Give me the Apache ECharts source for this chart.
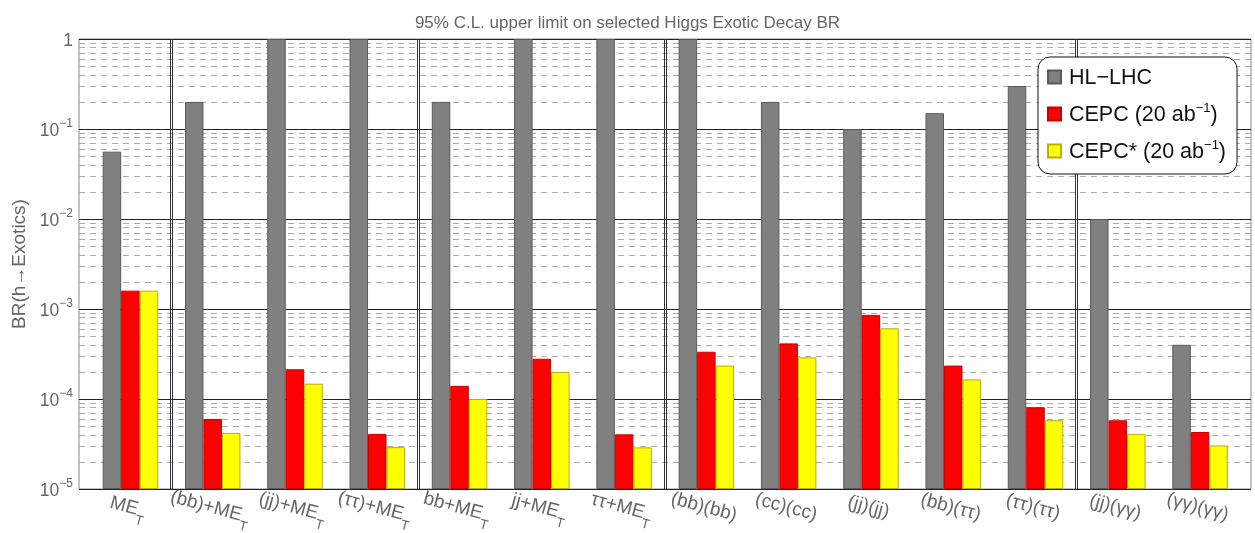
<!DOCTYPE html>
<html>
<head>
<meta charset="utf-8">
<script src="https://cdn.jsdelivr.net/npm/echarts@6/dist/echarts.min.js"></script>
<style>
html,body{margin:0;padding:0;background:#fff;}
#chart{width:1255px;height:533px;}
</style>
</head>
<body>
<div id="chart"></div>
<script>
// ---- data ----
const categories = ['MET', '(bb)+MET', '(jj)+MET', '(ττ)+MET', 'bb+MET', 'jj+MET', 'ττ+MET',
  '(bb)(bb)', '(cc)(cc)', '(jj)(jj)', '(bb)(ττ)', '(ττ)(ττ)', '(jj)(γγ)', '(γγ)(γγ)'];
const categoryLabels = ['{n|ME}{s|T}', '{n|(bb)+ME}{s|T}', '{n|(jj)+ME}{s|T}', '{n|(ττ)+ME}{s|T}',
  '{n|bb+ME}{s|T}', '{n|jj+ME}{s|T}', '{n|ττ+ME}{s|T}', '{n|(bb)(bb)}', '{n|(cc)(cc)}',
  '{n|(jj)(jj)}', '{n|(bb)(ττ)}', '{n|(ττ)(ττ)}', '{n|(jj)(γγ)}', '{n|(γγ)(γγ)}'];
const hlLhc    = [0.056, 0.2, 1, 1, 0.2, 1, 1, 1, 0.2, 0.1, 0.15, 0.3, 0.01, 4.0e-4];
const cepc     = [1.6e-3, 6.0e-5, 2.14e-4, 4.1e-5, 1.4e-4, 2.8e-4, 4.05e-5, 3.35e-4, 4.15e-4, 8.6e-4, 2.35e-4, 8.1e-5, 5.8e-5, 4.3e-5];
const cepcStar = [1.6e-3, 4.2e-5, 1.48e-4, 2.92e-5, 1.0e-4, 2.0e-4, 2.9e-5, 2.35e-4, 2.9e-4, 6.1e-4, 1.65e-4, 5.8e-5, 4.1e-5, 3.05e-5];
const seriesNames = ['HL−LHC', 'CEPC (20 ab⁻¹)', 'CEPC* (20 ab⁻¹)'];
const legendLabels = ['{t|HL−LHC}', '{t|CEPC (20 ab}{u|−1}{t|)}', '{t|CEPC* (20 ab}{u|−1}{t|)}'];
const groupBreaks = [1, 4, 7, 12]; // group separators (index of first category of new group)
const yMin = 1e-5, yMax = 1;
const titleText = '95% C.L. upper limit on selected Higgs Exotic Decay BR';
const yName = 'BR(h→Exotics)';

// ---- helpers ----
const FONT = 'Liberation Sans, Arial, sans-serif';
const minorLines = [];
for (let e = -5; e < 0; e++) {
  for (let k = 2; k <= 9; k++) minorLines.push({ yAxis: k * Math.pow(10, e) });
}
const dividerLines = [];
groupBreaks.forEach(b => {
  dividerLines.push({ xAxis: b - 0.5 - 0.0122 });
  dividerLines.push({ xAxis: b - 0.5 + 0.0122 });
});

const chart = echarts.init(document.getElementById('chart'), null, { renderer: 'canvas' });
const barColors = ['#808080', '#ff0000', '#ffff00'];
const barBorders = ['#5a5a5a', '#c80000', '#b8b000'];
const barData = [hlLhc, cepc, cepcStar];

const option = {
  animation: false,
  backgroundColor: '#fff',
  textStyle: { fontFamily: FONT },
  title: {
    text: titleText, left: 'center', top: 10,
    textStyle: { fontFamily: FONT, fontSize: 17, fontWeight: 'normal', color: '#666' }
  },
  legend: {
    orient: 'vertical', left: 1038, top: 57, z: 10,
    padding: [10, 11, 11, 9], itemGap: 13, itemWidth: 13, itemHeight: 13,
    backgroundColor: '#fff', borderColor: '#111', borderWidth: 1, borderRadius: 12,
    icon: 'rect', data: seriesNames,
    formatter: name => legendLabels[seriesNames.indexOf(name)],
    textStyle: {
      padding: [0, 0, 0, 3],
      rich: {
        t: { fontFamily: FONT, fontSize: 21.5, color: '#111', lineHeight: 24, verticalAlign: 'bottom' },
        u: { fontFamily: FONT, fontSize: 13, color: '#111', lineHeight: 24, verticalAlign: 'top' }
      }
    }
  },
  grid: [
    { left: 79, right: 4, top: 39, bottom: 44, outerBoundsMode: 'none', containLabel: false,
      show: true, borderColor: '#888', borderWidth: 1, backgroundColor: 'transparent' },
    { left: 89.3, width: 1151.9, top: 39, bottom: 44, outerBoundsMode: 'none', containLabel: false }
  ],
  xAxis: [
    { type: 'value', gridIndex: 0, min: 0, max: 1, show: false },
    {
      type: 'category', gridIndex: 1, data: categories,
      axisLine: { show: false },
      axisTick: { show: true, inside: true, length: 4, alignWithLabel: true, lineStyle: { color: '#aaa' } },
      axisLabel: {
        rotate: -15, margin: 9, align: 'center', verticalAlign: 'top', interval: 0,
        formatter: (v, i) => categoryLabels[i],
        rich: {
          n: { fontFamily: FONT, fontSize: 19, color: '#666', lineHeight: 27, verticalAlign: 'top' },
          s: { fontFamily: FONT, fontSize: 13.5, color: '#666', lineHeight: 27, verticalAlign: 'bottom' }
        }
      }
    },
    { type: 'value', gridIndex: 1, min: -0.5, max: categories.length - 0.5, show: false }
  ],
  yAxis: [
    {
      type: 'log', logBase: 10, gridIndex: 0, min: yMin, max: yMax,
      name: yName, nameLocation: 'middle', nameGap: 46, nameRotate: 90,
      nameTextStyle: { fontFamily: FONT, fontSize: 19, color: '#666' },
      axisLine: { show: false }, axisTick: { show: false },
      axisLabel: {
        margin: 6,
        formatter: v => {
          const e = Math.round(Math.log10(v));
          return e === 0 ? '{b|1}' : '{b|10}{p|−' + (-e) + '}';
        },
        rich: {
          b: { fontFamily: FONT, fontSize: 17.5, color: '#666', lineHeight: 22, verticalAlign: 'bottom' },
          p: { fontFamily: FONT, fontSize: 12, color: '#666', lineHeight: 22, verticalAlign: 'top' }
        }
      },
      splitLine: { show: true, lineStyle: { color: '#222', width: 1 } }
    },
    { type: 'log', logBase: 10, gridIndex: 1, min: yMin, max: yMax, startValue: yMin, show: false, splitLine: { show: false } }
  ],
  series: [
    {
      type: 'line', xAxisIndex: 0, yAxisIndex: 0, data: [], z: 1, silent: true,
      markLine: {
        silent: true, symbol: 'none', animation: false, label: { show: false }, precision: 12, z: 1,
        lineStyle: { color: '#aaa', width: 1, type: [6, 5] },
        emphasis: { disabled: true },
        data: minorLines
      }
    },
    ...seriesNames.map((name, k) => ({
      name: name, type: 'bar', xAxisIndex: 1, yAxisIndex: 1, z: 3,
      barWidth: 18.5, barGap: '0%',
      itemStyle: { color: barColors[k], borderColor: barBorders[k], borderWidth: 1 },
      data: barData[k]
    })),
    {
      type: 'line', xAxisIndex: 2, yAxisIndex: 1, data: [], z: 4, silent: true,
      markLine: {
        silent: true, symbol: 'none', animation: false, label: { show: false }, precision: 12, z: 4,
        lineStyle: { color: '#333', width: 1, type: 'solid' },
        emphasis: { disabled: true },
        data: dividerLines
      }
    }
  ]
};
chart.setOption(option);
</script>
</body>
</html>
